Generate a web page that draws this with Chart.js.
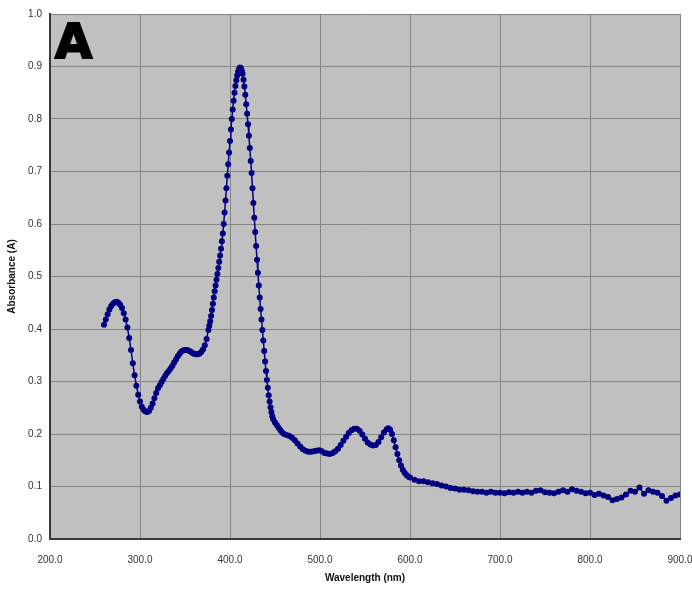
<!DOCTYPE html>
<html>
<head>
<meta charset="utf-8">
<script src="https://cdn.jsdelivr.net/npm/chart.js@4/dist/chart.umd.min.js"></script>
<style>
  html, body { margin: 0; padding: 0; background: #fff; }
  #wrap { width: 692px; height: 592px; }
</style>
</head>
<body>
<div id="wrap"><canvas id="spectrumChart" width="692" height="592"></canvas></div>
<script>
// Absorption spectrum
const wavelengths = [
    260, 262, 264, 266, 268, 270, 272, 274, 276, 278, 280, 282, 284, 286, 288, 290, 292, 294, 296, 298,
    300, 302, 304, 306, 308, 310, 312, 314, 316, 318, 320, 322, 324, 326, 328, 330, 332, 334, 336, 338,
    340, 342, 344, 346, 348, 350, 352, 354, 356, 358, 360, 362, 364, 366, 368, 370, 372, 374,
    376, 377, 378, 379, 380, 381, 382, 383, 384, 385, 386, 387, 388, 389, 390, 391, 392, 393, 394, 395,
    396, 397, 398, 399, 400, 401, 402, 403, 404, 405, 406, 407, 408, 409, 410, 411, 412, 413, 414, 415,
    416, 417, 418, 419, 420, 421, 422, 423, 424, 425, 426, 427, 428, 429, 430, 431, 432, 433, 434, 435,
    436, 437, 438, 439, 440, 441, 442, 443, 444, 445, 446, 447, 448,
    450, 452, 454, 456, 458, 460, 463, 466, 469, 472, 475, 478, 481, 484, 487, 490, 493, 496, 499, 502,
    505, 508, 511, 514, 517, 520, 523, 526, 529, 532, 535, 538, 541, 544, 547, 550, 553, 556, 559, 562,
    565, 568, 571, 574, 576, 578, 580, 582, 584, 586, 588, 590, 592, 594, 596, 598, 600,
    605, 610, 615, 620, 625, 630, 635, 640, 645, 650, 655, 660, 665, 670, 675, 680, 685, 690, 695, 700,
    705, 710, 715, 720, 725, 730, 735, 740, 745, 750, 755, 760, 765, 770, 775, 780, 785, 790, 795, 800,
    805, 810, 815, 820, 825, 830, 835, 840, 845, 850, 855, 860, 865, 870, 875, 880, 885, 890, 895, 900
];
const absorbance = [
    0.408, 0.418, 0.428, 0.437, 0.444, 0.448, 0.451, 0.452, 0.450, 0.446, 0.440, 0.430, 0.418, 0.403, 0.383, 0.360, 0.335, 0.312, 0.292, 0.275,
    0.262, 0.252, 0.246, 0.243, 0.242, 0.244, 0.250, 0.258, 0.268, 0.278, 0.287, 0.293, 0.299, 0.305, 0.311, 0.316, 0.320, 0.325, 0.330, 0.336,
    0.342, 0.348, 0.353, 0.357, 0.359, 0.360, 0.360, 0.359, 0.357, 0.355, 0.353, 0.352, 0.352, 0.353, 0.356, 0.361, 0.369, 0.381,
    0.398, 0.406, 0.415, 0.425, 0.436, 0.448, 0.460, 0.472, 0.483, 0.494, 0.505, 0.516, 0.528, 0.540, 0.553, 0.567, 0.582, 0.600, 0.622, 0.645,
    0.668, 0.692, 0.714, 0.736, 0.758, 0.780, 0.800, 0.818, 0.835, 0.850, 0.863, 0.874, 0.883, 0.890, 0.895, 0.898, 0.897, 0.893, 0.886, 0.875,
    0.862, 0.846, 0.828, 0.810, 0.790, 0.768, 0.745, 0.720, 0.697, 0.668, 0.640, 0.612, 0.585, 0.558, 0.532, 0.507, 0.483, 0.460, 0.438, 0.418,
    0.398, 0.378, 0.358, 0.338, 0.320, 0.303, 0.288, 0.274, 0.262, 0.251, 0.242, 0.234, 0.228,
    0.222, 0.217, 0.212, 0.207, 0.203, 0.200, 0.198, 0.196, 0.193, 0.188, 0.182, 0.176, 0.171, 0.168, 0.166, 0.166, 0.167, 0.168, 0.169, 0.167,
    0.164, 0.163, 0.162, 0.164, 0.167, 0.172, 0.179, 0.187, 0.195, 0.202, 0.207, 0.210, 0.210, 0.206, 0.199, 0.191, 0.184, 0.180, 0.178, 0.179,
    0.185, 0.194, 0.203, 0.209, 0.211, 0.208, 0.200, 0.188, 0.175, 0.162, 0.150, 0.140, 0.132, 0.126, 0.122, 0.119, 0.117,
    0.113, 0.110, 0.110, 0.108, 0.106, 0.105, 0.102, 0.100, 0.097, 0.096, 0.094, 0.094, 0.093, 0.091, 0.090, 0.090, 0.088, 0.090, 0.088, 0.088,
    0.087, 0.089, 0.088, 0.090, 0.088, 0.090, 0.088, 0.092, 0.093, 0.089, 0.088, 0.087, 0.090, 0.093, 0.090, 0.095, 0.092, 0.090, 0.087, 0.088,
    0.084, 0.086, 0.083, 0.080, 0.074, 0.076, 0.079, 0.085, 0.092, 0.090, 0.098, 0.086, 0.093, 0.090, 0.088, 0.082, 0.073, 0.078, 0.083, 0.085
];

const xTicks = [200, 300, 400, 500, 600, 700, 800, 900];
const yTicks = [0.0, 0.1, 0.2, 0.3, 0.4, 0.5, 0.6, 0.7, 0.8, 0.9, 1.0];

const panelLabel = 'A';
const xTitle = 'Wavelength (nm)';
const yTitle = 'Absorbance (A)';

const NAVY = 'rgb(0, 0, 128)';
const FONT = "'Liberation Sans', Arial, sans-serif";

// gray plot area + big panel letter
const plotBackground = {
    id: 'plotBackground',
    beforeDraw(chart) {
        const { ctx, chartArea: a } = chart;
        ctx.save();
        ctx.fillStyle = '#c0c0c0';
        ctx.fillRect(a.left, a.top, a.right - a.left, a.bottom - a.top);
        ctx.restore();
    },
    afterDatasetsDraw(chart) {
        const { ctx, chartArea: a } = chart;
        ctx.save();
        ctx.font = "bold 48px 'DejaVu Sans', sans-serif";
        ctx.fillStyle = '#000';
        ctx.strokeStyle = '#000';
        ctx.lineWidth = 2;
        ctx.textBaseline = 'alphabetic';
        ctx.fillText(panelLabel, a.left + 5, a.top + 44);
        ctx.strokeText(panelLabel, a.left + 5, a.top + 44);
        ctx.restore();
    }
};

const ctx = document.getElementById('spectrumChart').getContext('2d');
new Chart(ctx, {
    type: 'scatter',
    data: {
        datasets: [{
            data: wavelengths.map((w, i) => ({ x: w, y: absorbance[i] })),
            showLine: true,
            borderColor: NAVY,
            backgroundColor: NAVY,
            borderWidth: 1.5,
            pointRadius: 3,
            pointBorderWidth: 0,
            tension: 0
        }]
    },
    options: {
        responsive: false,
        animation: false,
        layout: { padding: { top: 14, right: 12, left: 0, bottom: 0 } },
        plugins: {
            legend: { display: false },
            tooltip: { enabled: false }
        },
        scales: {
            x: {
                type: 'linear',
                min: 200,
                max: 900,
                afterBuildTicks: scale => { scale.ticks = xTicks.map(v => ({ value: v })); },
                afterFit: scale => {
                    scale.height = 53;
                    scale.paddingLeft = 0;
                    scale.paddingRight = 0;
                },
                grid: { color: '#858585', lineWidth: 1, drawTicks: false },
                border: { color: '#3a3a3a', width: 2 },
                ticks: {
                    padding: 15,
                    maxRotation: 0,
                    color: '#333',
                    font: { family: FONT, size: 10 },
                    callback: v => v.toFixed(1)
                },
                title: {
                    display: true,
                    text: xTitle,
                    color: '#111',
                    font: { family: FONT, size: 10, weight: 'bold' },
                    padding: { top: 0, bottom: 8 }
                }
            },
            y: {
                min: 0,
                max: 1,
                afterBuildTicks: scale => { scale.ticks = yTicks.map(v => ({ value: v })); },
                afterFit: scale => {
                    scale.width = 50;
                    scale.paddingTop = 0;
                    scale.paddingBottom = 0;
                },
                grid: { color: '#858585', lineWidth: 1, drawTicks: false },
                border: { color: '#3a3a3a', width: 2 },
                ticks: {
                    padding: 8,
                    color: '#333',
                    font: { family: FONT, size: 10 },
                    callback: v => v.toFixed(1)
                },
                title: {
                    display: true,
                    text: yTitle,
                    color: '#111',
                    font: { family: FONT, size: 10, weight: 'bold' },
                    padding: { top: 6, bottom: 0 }
                }
            }
        }
    },
    plugins: [plotBackground]
});
</script>
</body>
</html>
